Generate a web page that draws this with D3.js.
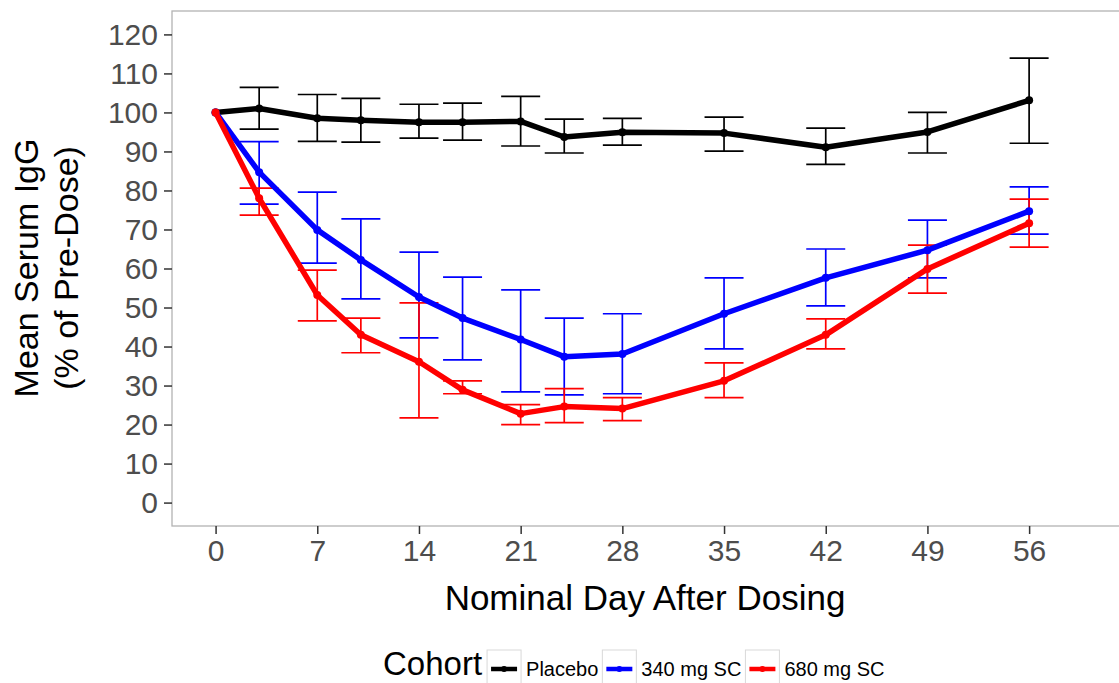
<!DOCTYPE html>
<head>
    <meta charset="utf-8">
    <style> body { margin: 0; background: #ffffff; } text { font-family: "Liberation Sans", Arial, sans-serif; } </style>
    <script src="https://cdn.jsdelivr.net/npm/d3@7"></script>
</head>
<body>
<div id="chart"></div>
<script>

var days = [0, 3, 7, 10, 14, 17, 21, 24, 28, 35, 42, 49, 56];

var placeboMean = [100, 101, 98.5, 98, 97.5, 97.5, 97.7, 93.7, 94.9, 94.7, 91.1, 95, 103.1];
var placeboLo   = [null, 95.7, 92.6, 92.4, 93.4, 92.9, 91.4, 89.6, 91.6, 90.1, 86.7, 89.6, 92.1];
var placeboHi   = [null, 106.4, 104.6, 103.6, 102.1, 102.4, 104.1, 98.3, 98.5, 98.8, 96.0, 100, 113.9];

var mg340Mean = [100, 84.7, 69.9, 62.2, 52.7, 47.3, 41.8, 37.4, 38.1, 48.4, 57.6, 64.7, 74.7];
var mg340Lo   = [null, 76.5, 61.4, 52.2, 42.2, 36.6, 28.4, 27.6, 27.9, 39.4, 50.4, 57.6, 68.8];
var mg340Hi   = [null, 92.5, 79.6, 72.7, 64.2, 57.8, 54.5, 47.3, 48.4, 57.6, 65.0, 72.4, 80.9];

var mg680Mean = [100, 78, 53.2, 43.0, 36.1, 28.9, 22.8, 24.6, 24.1, 31.2, 43.0, 59.9, 71.6];
var mg680Lo   = [null, 73.7, 46.6, 38.4, 21.7, 27.9, 20.0, 20.5, 21.0, 26.9, 39.4, 53.7, 65.5];
var mg680Hi   = [null, 80.6, 59.6, 47.3, 51.2, 31.2, 25.1, 29.2, 26.9, 35.8, 47.1, 66.0, 77.8];

var cohorts = ["Placebo", "340 mg SC", "680 mg SC"];
var colors = ["#000000", "#0000ff", "#ff0000"];

var xTicks = [0, 7, 14, 21, 28, 35, 42, 49, 56];
var yTicks = [0, 10, 20, 30, 40, 50, 60, 70, 80, 90, 100, 110, 120];

var W = 1119, H = 683;

var series = [
    { name: cohorts[0], color: colors[0], mean: placeboMean, lo: placeboLo, hi: placeboHi },
    { name: cohorts[1], color: colors[1], mean: mg340Mean, lo: mg340Lo, hi: mg340Hi },
    { name: cohorts[2], color: colors[2], mean: mg680Mean, lo: mg680Lo, hi: mg680Hi }
];

var svg = d3.select("#chart").append("svg")
    .attr("width", W)
    .attr("height", H);

// panel runs off the right edge in the original
var x = d3.scaleLinear().domain([-3, 62.6]).range([172, 1125]);
var y = d3.scaleLinear().domain([-6, 126]).range([526, 11]);

svg.append("rect")
    .attr("x", 172).attr("y", 11)
    .attr("width", 1125 - 172).attr("height", 526 - 11)
    .attr("fill", "none")
    .attr("stroke", "#b3b3b3")
    .attr("stroke-width", 1.3);

var xx = svg.append("g")
    .attr("transform", "translate(0,526)")
    .call(d3.axisBottom(x).tickValues(xTicks).tickSize(8).tickPadding(6));

var yx = svg.append("g")
    .attr("transform", "translate(172,0)")
    .call(d3.axisLeft(y).tickValues(yTicks).tickSize(8).tickPadding(6));

[xx, yx].forEach(function(a) {
    a.select(".domain").remove();
    a.selectAll("line").attr("stroke", "#333333").attr("stroke-width", 1.5);
    a.selectAll("text")
        .attr("fill", "#4d4d4d")
        .style("font-size", "30px")
        .style("font-family", "'Liberation Sans', Arial, sans-serif");
});

var plot = svg.append("g");

// error bars first, lines on top
series.forEach(function(s) {
    var pts = days.map(function(d, i) { return { day: d, lo: s.lo[i], hi: s.hi[i] }; })
        .filter(function(p) { return p.lo != null; });
    var cap = 19.5;
    var g = plot.append("g").attr("stroke", s.color).attr("stroke-width", 1.7).attr("fill", "none");
    g.selectAll(".v").data(pts).enter().append("line")
        .attr("x1", d => x(d.day)).attr("x2", d => x(d.day))
        .attr("y1", d => y(d.lo)).attr("y2", d => y(d.hi));
    g.selectAll(".t").data(pts).enter().append("line")
        .attr("x1", d => x(d.day) - cap).attr("x2", d => x(d.day) + cap)
        .attr("y1", d => y(d.hi)).attr("y2", d => y(d.hi));
    g.selectAll(".b").data(pts).enter().append("line")
        .attr("x1", d => x(d.day) - cap).attr("x2", d => x(d.day) + cap)
        .attr("y1", d => y(d.lo)).attr("y2", d => y(d.lo));
});

var line = d3.line()
    .x(d => x(d.day))
    .y(d => y(d.v));

series.forEach(function(s) {
    var pts = days.map(function(d, i) { return { day: d, v: s.mean[i] }; });
    plot.append("path")
        .datum(pts)
        .attr("d", line)
        .attr("fill", "none")
        .attr("stroke", s.color)
        .attr("stroke-width", 5.5)
        .attr("stroke-linejoin", "round");
    plot.append("g").selectAll("circle").data(pts).enter().append("circle")
        .attr("cx", d => x(d.day)).attr("cy", d => y(d.v))
        .attr("r", 4)
        .attr("fill", s.color);
});

// axis titles
svg.append("text")
    .attr("x", 645).attr("y", 610)
    .attr("text-anchor", "middle")
    .style("font-size", "35px")
    .text("Nominal Day After Dosing");

var yt = svg.append("text")
    .attr("transform", "translate(0,268) rotate(-90)")
    .attr("text-anchor", "middle")
    .style("font-size", "34px");
yt.append("tspan").attr("x", 0).attr("y", 38).text("Mean Serum IgG");
yt.append("tspan").attr("x", 0).attr("y", 78).text("(% of Pre-Dose)");

// legend
var lg = svg.append("g");
var cohortTxt = lg.append("text")
    .attr("x", 383).attr("y", 675)
    .style("font-size", "33px")
    .text("Cohort");

var lx = 383 + cohortTxt.node().getComputedTextLength() + 5;
series.forEach(function(s) {
    lg.append("rect")
        .attr("x", lx).attr("y", 650)
        .attr("width", 34).attr("height", 34)
        .attr("fill", "#ffffff")
        .attr("stroke", "#d9d9d9")
        .attr("stroke-width", 1);
    lg.append("line")
        .attr("x1", lx + 4).attr("x2", lx + 30)
        .attr("y1", 669).attr("y2", 669)
        .attr("stroke", s.color).attr("stroke-width", 4.5);
    lg.append("circle")
        .attr("cx", lx + 17).attr("cy", 669).attr("r", 3)
        .attr("fill", s.color);
    var t = lg.append("text")
        .attr("x", lx + 39).attr("y", 676)
        .style("font-size", "20px")
        .text(s.name);
    lx = lx + 39 + t.node().getComputedTextLength() + 4;
});

</script>
</body>
